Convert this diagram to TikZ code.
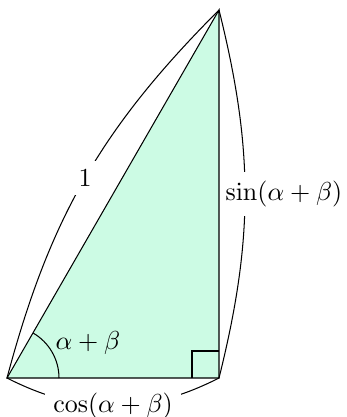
\documentclass[tikz,border=0pt]{standalone}
\usepackage{amsmath, amssymb}
\usetikzlibrary{calc}
\definecolor{mintfill}{RGB}{204,251,228}

\begin{document}
\begin{tikzpicture}[x=0.385pt,y=0.385pt,yscale=-1,xscale=1,
  lbl/.style={fill=white}]
\useasboundingbox (0,0) rectangle (346,417);

% corners of the triangle
\coordinate (A) at (7,378);
\coordinate (B) at (219,378);
\coordinate (C) at (219,10);

%Shape: Triangle
\draw [fill=mintfill]  (A) -- (B) -- (C) -- cycle ;
%Shape: Right angle
\draw   ($(B)+(-27,0)$) |- ($(B)+(0,-27)$) ;
%Shape: Arc
\draw   ($(A)+(52,0)$) arc [start angle=0, end angle=-60, radius=52] ;

%Curved Lines
\draw  (A) to [bend right=15] node[lbl] (hyp) {$1$} (C) ;
\draw  (C) to [bend right=14] node[lbl, inner xsep=1pt, right, xshift=-8.7pt] (opp) {$\sin(\alpha+\beta)$} (B) ;
\draw  (A) to [bend left=27] node[lbl] (adj) {$\cos(\alpha+\beta)$} (B) ;

% Text Node
\node (ang) at (88,343) {$\alpha+\beta$};

\end{tikzpicture}
\end{document}
